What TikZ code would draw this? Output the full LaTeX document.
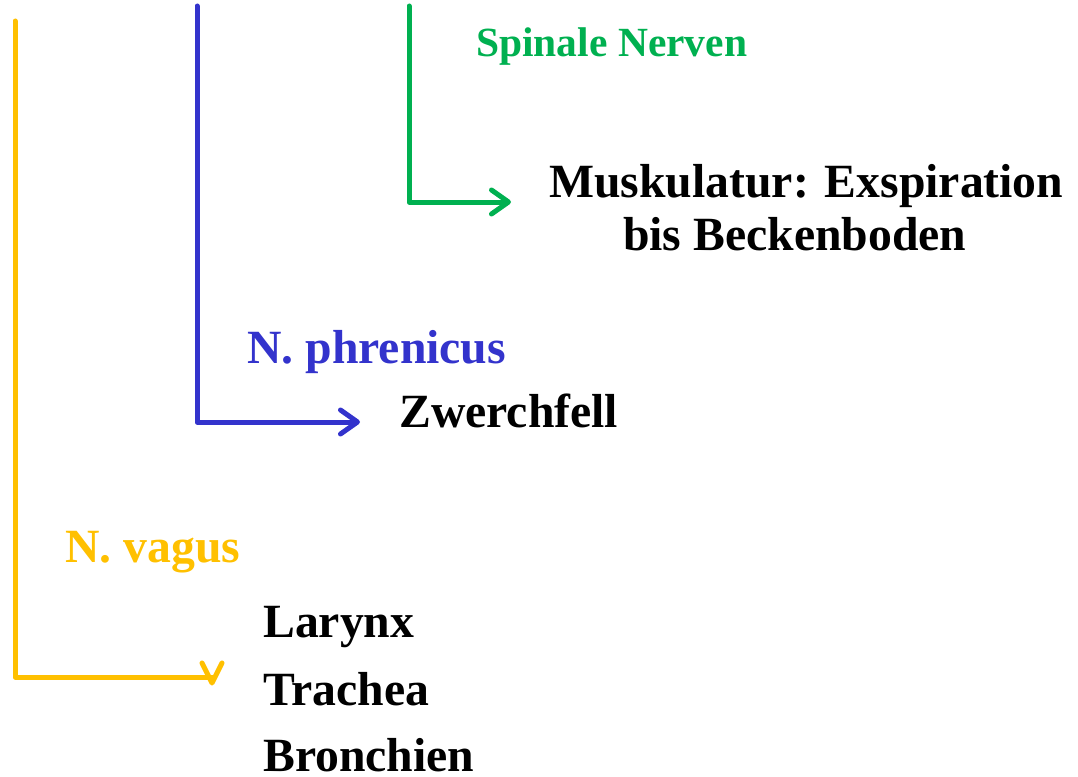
\documentclass[tikz,border=0pt]{standalone}
\usepackage{fontspec}
\setmainfont{Liberation Serif}
\usetikzlibrary{arrows.meta}
\definecolor{vagusyellow}{HTML}{FFC000}
\definecolor{phrenblue}{HTML}{3333CC}
\definecolor{spingreen}{HTML}{00B050}
\tikzset{
  lbl/.style={anchor=base west, inner sep=0pt, font=\bfseries\fontsize{47.7bp}{53bp}\selectfont},
  smalllbl/.style={anchor=base west, inner sep=0pt, font=\bfseries\fontsize{41.5bp}{46bp}\selectfont},
  nerve/.style={line width=5bp, line cap=round, line join=round},
  barb/.style={-{Straight Barb[length=17bp,width=24bp,round]}},
}
\begin{document}
\begin{tikzpicture}[x=1bp,y=-1bp]
\useasboundingbox (0,0) rectangle (1078,777);
% labels
\node[smalllbl, text=spingreen] (spin) at (476,57) {Spinale Nerven};
\node[lbl] (musk) at (549,197) {Muskulatur: Exspiration};
\node[lbl] (bis) at (623,250) {bis Beckenboden};
\node[lbl, text=phrenblue] (phren) at (247,363) {N. phrenicus};
\node[lbl] (zwerch) at (399,427) {Zwerchfell};
\node[lbl, text=vagusyellow] (vagus) at (65,562) {N. vagus};
\node[lbl] (larynx) at (263,637) {Larynx};
\node[lbl] (trachea) at (263,705) {Trachea};
\node[lbl] (bronch) at (263,771) {Bronchien};
% connector ends
\coordinate (gTop) at (409,6);
\coordinate (gEnd) at (511,202);
\coordinate (bTop) at (197,6);
\coordinate (bEnd) at (360,422);
\coordinate (yTop) at (15,21);
\coordinate (yEnd) at (212,677);
% connectors
\draw[nerve, spingreen, barb] (gTop) |- (gEnd);
\draw[nerve, phrenblue, barb] (bTop) |- (bEnd);
\draw[nerve, vagusyellow] (yTop) |- (yEnd);
\draw[nerve, vagusyellow] (yEnd) ++(-10,-14) -- ++(10,20) -- ++(10,-20);
\end{tikzpicture}
\end{document}
